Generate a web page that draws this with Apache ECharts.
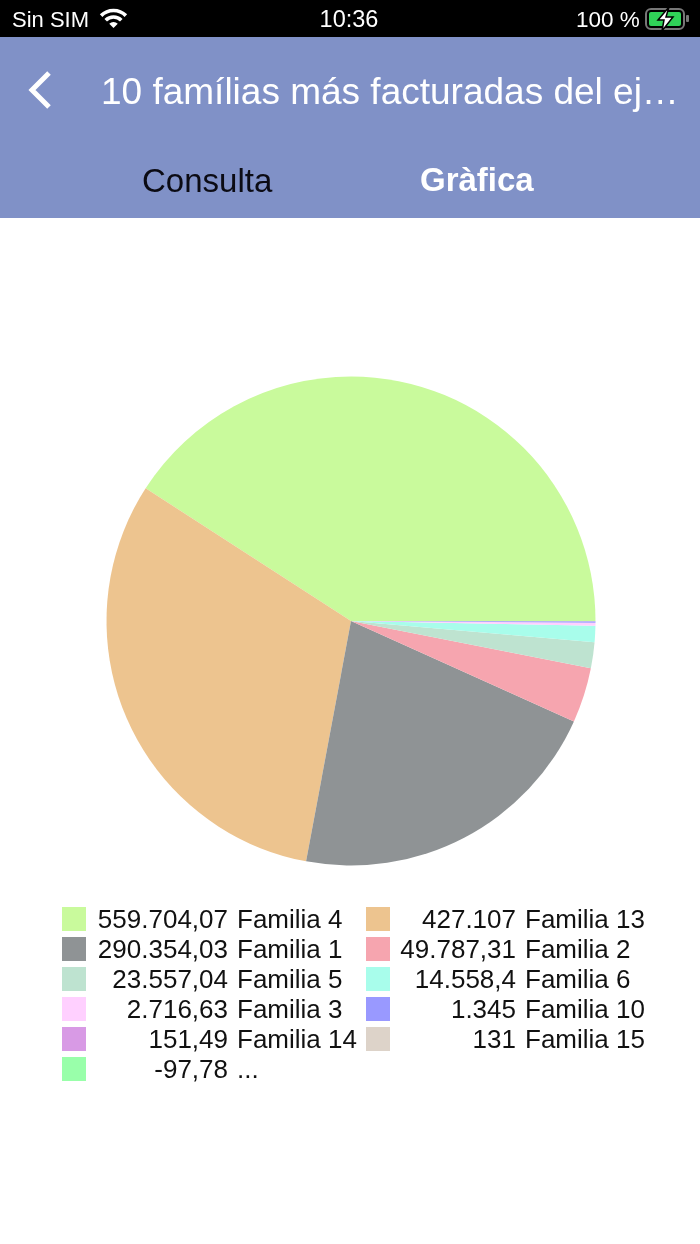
<!DOCTYPE html>
<html>
<head>
<meta charset="utf-8">
<title>Gràfica</title>
<script src="https://cdn.jsdelivr.net/npm/echarts@6/dist/echarts.min.js"></script>
<style>
  html, body { margin: 0; padding: 0; background: #fff; }
  #chart { width: 700px; height: 1244px; }
</style>
</head>
<body>
<div id="chart"></div>
<script>
const names = ["Familia 4", "Familia 13", "Familia 1", "Familia 2", "Familia 5", "Familia 6", "Familia 3", "Familia 10", "Familia 14", "Familia 15", "..."];
const values = [559704.07, 427107, 290354.03, 49787.31, 23557.04, 14558.4, 2716.63, 1345, 151.49, 131, -97.78];
const colors = ["#C9FA9C", "#EDC48F", "#8F9395", "#F6A5AF", "#BEE3D0", "#A8FDEB", "#FFD0FF", "#9999FF", "#D89AE5", "#DDD3C9", "#99FFAA"];

const FONT = '"Liberation Sans", Arial, sans-serif';
const LEGEND_SIZE = 26;
const fmt = new Intl.NumberFormat("de-DE", { maximumFractionDigits: 2 });
const label = (i) => fmt.format(values[i]);

// rich text can't right-align a token followed by another one, so pad it by hand
const ctx = document.createElement("canvas").getContext("2d");
ctx.font = `${LEGEND_SIZE}px "Liberation Sans"`;

const legend = (left, boxWidth, start) => {
  const base = { fontSize: LEGEND_SIZE, fontFamily: FONT, color: "#111", lineHeight: 24 };
  const rich = { n: Object.assign({ padding: [4, 0, 0, 9] }, base) };
  names.forEach((n, i) => {
    rich["v" + i] = Object.assign({ padding: [4, 0, 0, boxWidth - ctx.measureText(label(i)).width] }, base);
  });
  return {
    left: left,
    top: 904,
    orient: "vertical",
    padding: 0,
    itemWidth: 24,
    itemHeight: 24,
    itemGap: 0,
    icon: "rect",
    selectedMode: false,
    data: names
      .map((n, i) => ({ name: n, itemStyle: { color: colors[i] } }))
      .filter((d, i) => i % 2 === start),
    formatter: (name) => {
      const i = names.indexOf(name);
      return `{v${i}|${label(i)}}{n|${name}}`;
    },
    textStyle: { rich: rich },
  };
};

const text = (x, y, str, size, fill, extra) => ({
  type: "text", x: x, y: y,
  style: Object.assign({ text: str, fontSize: size, fontFamily: FONT, fill: fill, verticalAlign: "middle" }, extra),
});

const wifiArc = (r) => ({
  type: "arc",
  shape: { cx: 113.5, cy: 28, r: r, startAngle: -Math.PI * 0.75, endAngle: -Math.PI * 0.25 },
  style: { fill: "none", stroke: "#fff", lineWidth: 3.6 },
});

// status bar + nav bar
const chrome = [
  { type: "rect", shape: { x: 0, y: 37, width: 700, height: 181 }, style: { fill: "#8091C7" } },
  { type: "rect", shape: { x: 0, y: 0, width: 700, height: 37 }, style: { fill: "#000" } },
  text(12, 21, "Sin SIM", 22, "#fff"),
  wifiArc(17.5),
  wifiArc(11),
  { type: "sector", shape: { cx: 113.5, cy: 28, r: 6, r0: 0, startAngle: -Math.PI * 0.75, endAngle: -Math.PI * 0.25 }, style: { fill: "#fff" } },
  text(349, 21, "10:36", 23.5, "#fff", { align: "center" }),
  text(576, 21, "100 %", 22.5, "#fff"),
  // battery
  { type: "rect", shape: { x: 646, y: 9, width: 38, height: 20, r: 5 }, style: { fill: "none", stroke: "#777", lineWidth: 2 } },
  { type: "rect", shape: { x: 649, y: 12, width: 32, height: 14, r: 2 }, style: { fill: "#30D158" } },
  { type: "rect", shape: { x: 686, y: 15, width: 3, height: 7, r: 1 }, style: { fill: "#777" } },
  { type: "polygon", shape: { points: [[669, 7], [658, 20], [664, 20], [662, 31], [673, 17], [666, 17]] }, style: { fill: "#fff", stroke: "#000", lineWidth: 1.5 } },
  // back arrow
  { type: "polyline", shape: { points: [[49, 73], [32, 90], [49, 107]] }, style: { fill: "none", stroke: "#fff", lineWidth: 5 } },
  text(101, 94, "10 famílias más facturadas del ej…", 37, "#fff"),
  text(142, 183, "Consulta", 33, "#0b0b14"),
  text(420, 182, "Gràfica", 33, "#fff", { fontWeight: "bold" }),
];

const chart = echarts.init(document.getElementById("chart"));
chart.setOption({
  animation: false,
  legend: [legend(62, 137, 0), legend(366, 121, 1)],
  graphic: chrome,
  series: [
    {
      type: "pie",
      center: [351, 621],
      radius: [0, 244.5],
      startAngle: 0,
      clockwise: false,
      silent: true,
      label: { show: false },
      labelLine: { show: false },
      data: names.map((n, i) => ({ name: n, value: values[i], itemStyle: { color: colors[i] } })),
    },
  ],
});
</script>
</body>
</html>
